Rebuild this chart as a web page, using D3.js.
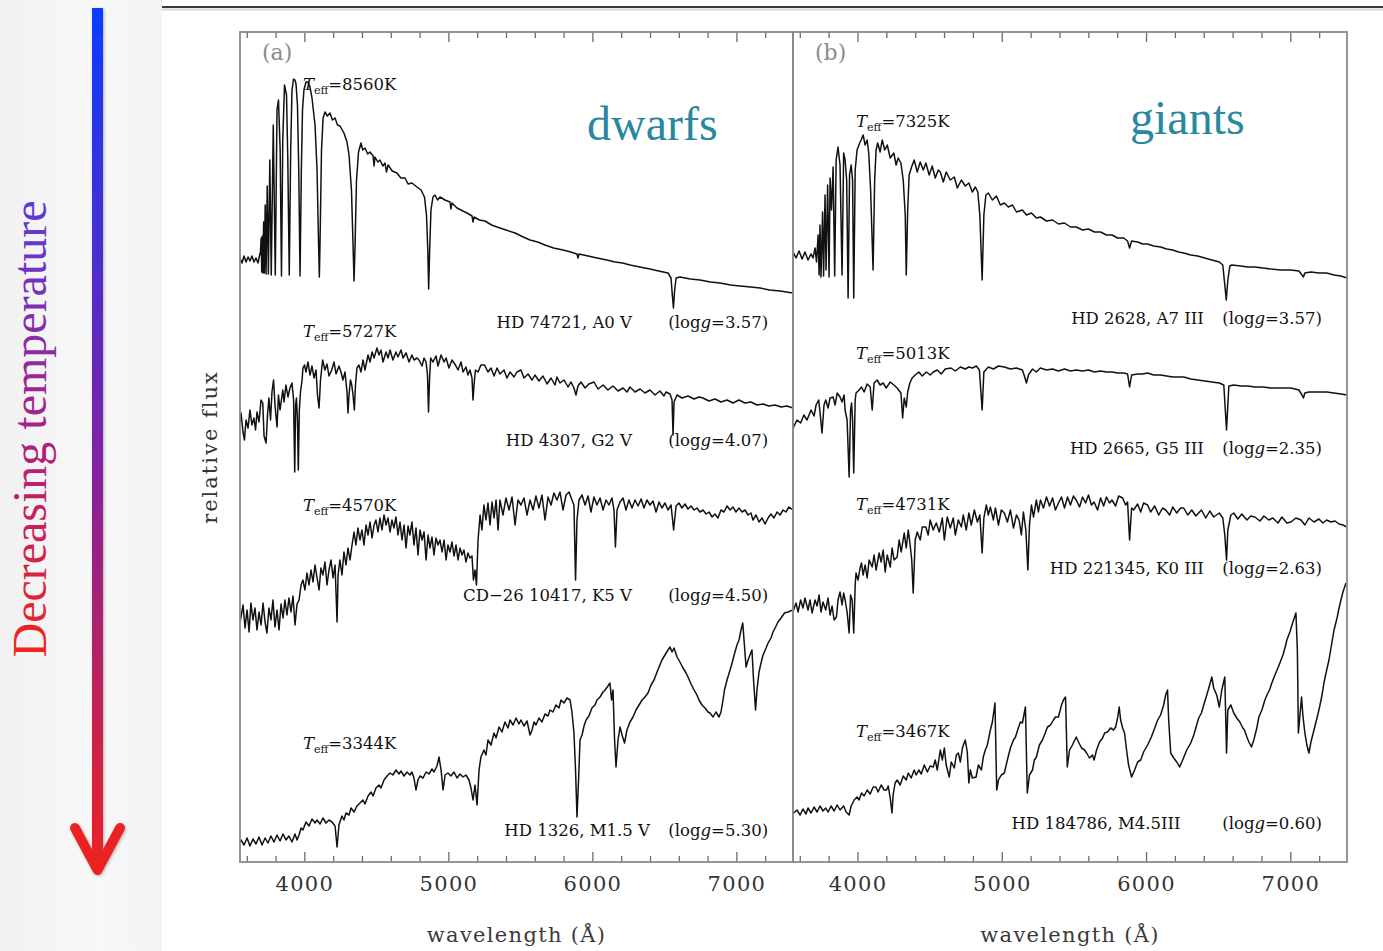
<!DOCTYPE html>
<html>
<head>
<meta charset="utf-8">
<script src="https://cdn.jsdelivr.net/npm/d3@7"></script>
<style>
  body { margin: 0; background: #fff; }
  svg { display: block; }
</style>
</head>
<body>
<svg id="chart" width="1383" height="951"></svg>
<script>
// ---- data (wavelength in Angstrom, relative flux incl. vertical offset) ----
const panelTags = ['(a)', '(b)'];
const groupNames = ['dwarfs', 'giants'];
const starNames = [
  ['HD 74721, A0 V', 'HD 4307, G2 V', 'CD\u221226 10417, K5 V', 'HD 1326, M1.5 V'],
  ['HD 2628, A7 III', 'HD 2665, G5 III', 'HD 221345, K0 III', 'HD 184786, M4.5III']
];
const teffs = [[8560, 5727, 4570, 3344], [7325, 5013, 4731, 3467]];
const loggs = [['3.57', '4.07', '4.50', '5.30'], ['3.57', '2.35', '2.63', '0.60']];
const waveTicks = [4000, 5000, 6000, 7000];
const waveMinorTicks = [3600, 3800, 4200, 4400, 4600, 4800, 5200, 5400, 5600, 5800,
  6200, 6400, 6600, 6800, 7200];

const a0v = [[3553,60.4],[3567,59.9],[3581,60.6],[3595,60.0],[3609,60.5],[3622,60.1],[3636,60.6],[3650,60.0],[3664,60.4],[3678,59.9],[3688,60.6],
  [3695,61.0],[3700,62.4],[3704,59.0],[3708,62.6],[3712,58.9],[3717,64.0],[3722,58.9],[3728,65.7],[3734,58.8],[3742,67.6],[3750,58.8],[3760,70.2],[3770,58.7],[3784,73.7],[3798,58.7],[3810,75.2],[3820,76.2],[3832,71.2],[3841,58.6],[3850,72.2],[3862,77.7],[3876,76.7],[3885,70.2],[3895,58.7],[3905,71.2],[3914,77.2],[3925,78.3],[3935,78.2],[3942,77.8],[3952,75.7],[3961,69.2],[3970,58.6],[3979,69.2],[3987,75.2],[3997,77.2],[4011,78.0],[4025,78.0],[4039,77.5],[4053,76.4],[4074,73.7],[4088,69.2],[4098,62.2],[4104,58.5],[4109,62.2],[4119,71.2],[4130,74.4],[4143,75.0],[4160,74.6],[4178,74.9],[4195,74.2],[4213,74.4],[4230,73.7],[4247,73.6],[4275,72.9],[4296,72.0],[4310,70.7],[4327,67.2],[4338,61.7],[4345,58.1],[4352,61.7],[4362,68.2],[4376,71.0],[4393,71.9],[4405,71.2],[4421,71.4],[4440,70.8],[4456,71.0],[4477,70.6],[4484,69.6],[4490,70.5],[4510,70.0],[4525,70.2],[4545,69.6],[4560,69.9],[4570,69.0],[4581,69.7],[4610,69.1],[4643,68.9],[4670,68.4],[4699,68.4],[4720,67.8],[4747,67.9],[4782,67.5],[4810,67.2],[4834,66.5],[4848,64.7],[4857,61.2],[4863,57.3],[4870,61.2],[4879,65.2],[4893,66.5],[4907,66.7],[4925,66.2],[4942,66.5],[4976,66.2],[5011,66.0],[5018,65.3],[5025,65.9],[5060,65.4],[5101,65.1],[5130,64.9],[5164,64.6],[5171,64.0],[5178,64.5],[5215,64.2],[5254,64.1],[5300,63.7],[5338,63.5],[5400,63.2],[5463,62.9],[5520,62.5],[5567,62.2],[5620,62.0],[5671,61.7],[5730,61.4],[5796,61.2],[5850,61.0],[5893,60.8],[5900,60.4],[5907,60.8],[5970,60.6],[6032,60.4],[6100,60.2],[6157,60.0],[6210,59.9],[6261,59.7],[6330,59.5],[6400,59.3],[6460,59.1],[6525,58.9],[6546,58.4],[6555,56.7],[6563,55.4],[6570,57.0],[6581,58.4],[6608,58.5],[6680,58.3],[6747,58.2],[6820,58.0],[6886,57.9],[6960,57.7],[7025,57.6],[7100,57.5],[7164,57.4],[7230,57.2],[7303,57.1],[7393,56.9]];

const g2v = [[3553,44.0],[3560,44.9],[3574,43.0],[3584,42.2],[3595,44.2],[3609,43.4],[3622,45.2],[3636,43.7],[3650,44.4],[3661,43.2],[3671,45.0],[3685,44.0],[3699,46.2],[3711,45.9],[3720,42.6],[3734,41.9],[3744,44.7],[3754,46.4],[3765,44.2],[3775,47.0],[3786,48.2],[3796,45.7],[3810,43.5],[3820,46.7],[3831,45.2],[3850,47.2],[3859,46.0],[3872,47.7],[3886,46.5],[3900,47.4],[3914,47.9],[3925,46.2],[3933,39.0],[3939,45.7],[3945,46.4],[3952,44.2],[3958,39.2],[3965,45.2],[3973,47.0],[3984,48.2],[3990,49.4],[4001,49.7],[4011,49.0],[4025,50.0],[4039,48.7],[4053,49.6],[4067,48.4],[4081,49.2],[4091,46.7],[4102,45.4],[4112,48.2],[4127,50.2],[4143,49.2],[4157,49.8],[4171,48.6],[4190,49.2],[4206,50.0],[4220,48.8],[4240,49.6],[4254,49.0],[4268,48.2],[4282,49.0],[4296,47.0],[4303,44.9],[4310,46.7],[4320,48.2],[4329,47.7],[4338,46.7],[4347,45.2],[4355,47.7],[4365,49.4],[4379,49.7],[4393,49.0],[4407,50.2],[4421,49.2],[4442,50.7],[4456,50.0],[4470,51.0],[4484,50.4],[4504,51.4],[4518,50.7],[4532,51.2],[4546,50.0],[4567,51.0],[4581,50.4],[4595,51.2],[4615,50.2],[4636,51.0],[4650,50.5],[4671,51.2],[4685,50.4],[4706,50.9],[4727,50.0],[4747,50.7],[4761,50.2],[4782,50.4],[4796,50.2],[4817,49.6],[4831,50.4],[4845,50.0],[4855,48.7],[4862,45.0],[4869,48.2],[4877,50.4],[4893,50.0],[4914,50.6],[4928,49.6],[4949,50.7],[4970,50.0],[4984,50.4],[5004,49.4],[5025,50.2],[5049,49.7],[5067,49.2],[5088,50.0],[5102,49.0],[5122,49.5],[5136,48.7],[5150,49.2],[5164,48.4],[5171,46.2],[5178,47.7],[5188,49.2],[5206,49.0],[5226,49.7],[5251,49.7],[5275,49.0],[5296,49.4],[5317,48.6],[5338,49.4],[5358,48.8],[5386,49.2],[5407,48.4],[5428,49.0],[5456,48.5],[5476,49.0],[5504,49.2],[5525,48.4],[5553,48.8],[5581,48.2],[5601,48.7],[5629,48.1],[5657,48.6],[5685,47.8],[5713,48.4],[5740,47.7],[5754,48.5],[5775,47.9],[5803,48.2],[5831,47.5],[5851,48.0],[5872,47.4],[5886,46.7],[5900,47.6],[5921,48.0],[5949,47.4],[5976,47.8],[6011,48.0],[6039,47.3],[6074,47.7],[6108,47.2],[6143,47.6],[6178,47.1],[6213,47.4],[6240,47.0],[6261,47.5],[6296,47.0],[6331,47.3],[6365,46.9],[6400,47.2],[6435,46.7],[6469,47.1],[6497,46.6],[6511,47.0],[6539,46.8],[6553,46.2],[6560,42.7],[6567,46.0],[6588,46.7],[6622,46.4],[6664,46.6],[6706,46.3],[6740,46.5],[6768,46.4],[6810,46.1],[6851,46.3],[6893,46.0],[6935,46.2],[6976,45.9],[7018,46.2],[7060,45.9],[7101,46.0],[7143,45.7],[7185,45.8],[7226,45.6],[7268,45.7],[7310,45.5],[7351,45.6],[7393,45.4]];

const k5v = [[3553,24.0],[3560,24.5],[3574,25.7],[3588,23.4],[3602,25.2],[3616,23.0],[3629,25.9],[3643,24.2],[3657,25.4],[3671,23.2],[3685,25.0],[3699,23.7],[3713,25.9],[3727,24.0],[3740,22.9],[3754,25.4],[3768,24.2],[3782,26.2],[3796,23.5],[3810,25.2],[3824,23.2],[3838,25.8],[3852,24.4],[3865,26.2],[3879,24.7],[3893,26.4],[3907,25.0],[3921,26.6],[3935,23.7],[3949,25.8],[3963,26.2],[3977,27.7],[3990,28.2],[4004,27.2],[4018,28.9],[4032,27.7],[4046,29.2],[4060,28.0],[4074,29.7],[4088,28.4],[4102,27.2],[4115,29.4],[4129,28.7],[4143,30.0],[4157,27.7],[4171,29.2],[4185,30.2],[4199,28.4],[4213,29.7],[4227,24.0],[4234,28.7],[4247,30.2],[4261,28.7],[4275,31.0],[4289,29.7],[4303,31.4],[4317,30.2],[4331,31.7],[4345,33.0],[4358,31.7],[4372,33.4],[4386,32.2],[4400,33.2],[4414,31.7],[4428,33.7],[4442,32.7],[4456,34.0],[4470,32.4],[4484,33.7],[4497,34.2],[4511,33.0],[4525,34.4],[4539,33.2],[4553,34.7],[4567,33.7],[4581,34.4],[4595,33.0],[4608,34.2],[4622,33.4],[4636,34.5],[4650,32.7],[4664,34.0],[4678,32.2],[4692,33.7],[4706,31.4],[4720,33.6],[4733,32.7],[4747,34.0],[4761,31.7],[4775,33.4],[4789,30.7],[4803,33.2],[4817,32.2],[4831,33.0],[4845,30.2],[4859,32.7],[4872,31.4],[4886,32.5],[4900,30.7],[4914,32.4],[4928,31.7],[4942,32.2],[4956,31.0],[4970,32.2],[4984,30.2],[4997,31.7],[5011,31.0],[5025,32.0],[5039,30.6],[5053,31.7],[5067,30.2],[5081,31.4],[5095,30.7],[5108,31.2],[5122,30.0],[5136,30.9],[5150,30.4],[5164,30.6],[5174,28.2],[5185,29.2],[5195,27.7],[5206,32.2],[5220,34.7],[5233,33.2],[5247,35.7],[5261,34.2],[5275,35.9],[5289,33.7],[5303,36.0],[5317,34.4],[5331,36.2],[5345,33.2],[5358,36.2],[5379,34.7],[5400,36.4],[5421,35.2],[5442,36.5],[5463,33.7],[5483,36.2],[5504,35.7],[5525,36.4],[5546,34.7],[5567,36.2],[5588,35.2],[5608,36.6],[5629,35.4],[5650,36.7],[5671,34.2],[5692,36.5],[5713,35.7],[5733,36.9],[5754,36.2],[5775,37.0],[5796,35.2],[5817,36.7],[5838,37.0],[5858,36.2],[5872,35.7],[5883,28.2],[5893,34.2],[5907,36.2],[5928,36.7],[5949,35.7],[5970,36.6],[5990,35.0],[6011,36.5],[6032,35.7],[6053,36.4],[6074,35.2],[6095,36.2],[6115,35.7],[6136,36.4],[6150,35.2],[6160,31.5],[6171,35.2],[6192,36.0],[6213,36.4],[6233,35.2],[6254,36.2],[6275,35.4],[6296,36.2],[6317,35.6],[6338,36.3],[6358,35.4],[6379,36.2],[6400,35.7],[6421,36.1],[6442,35.0],[6463,36.0],[6483,35.4],[6504,35.9],[6525,35.2],[6546,35.7],[6564,33.2],[6581,35.6],[6601,35.9],[6622,35.4],[6643,35.8],[6664,35.3],[6685,35.6],[6706,35.2],[6726,35.4],[6747,35.0],[6768,35.2],[6790,34.8],[6810,35.0],[6831,34.5],[6851,34.8],[6872,34.4],[6893,35.2],[6914,35.0],[6935,35.6],[6956,35.2],[6976,35.5],[6997,35.0],[7018,35.4],[7039,35.0],[7060,35.2],[7081,34.7],[7101,34.9],[7115,34.2],[7136,34.7],[7157,34.0],[7178,34.4],[7199,33.8],[7220,34.4],[7240,34.8],[7261,34.4],[7282,35.0],[7303,34.7],[7324,35.2],[7344,35.0],[7365,35.5],[7393,35.2]];

const m15v = [[3553,2.0],[3560,2.2],[3581,1.7],[3602,2.4],[3622,1.6],[3643,2.3],[3664,1.8],[3685,2.5],[3706,1.7],[3727,2.4],[3747,1.9],[3768,2.6],[3789,2.0],[3810,2.7],[3831,2.1],[3852,2.8],[3872,2.2],[3893,2.6],[3914,2.0],[3935,2.8],[3949,2.2],[3963,2.7],[3977,3.4],[3990,3.2],[4011,4.0],[4032,3.6],[4053,4.3],[4074,3.9],[4088,4.2],[4109,3.8],[4129,4.4],[4150,3.9],[4171,4.2],[4192,4.0],[4213,3.6],[4227,1.5],[4240,3.7],[4261,4.6],[4275,4.2],[4289,4.9],[4310,4.7],[4324,5.4],[4345,5.0],[4365,5.6],[4386,5.9],[4407,6.2],[4421,5.8],[4442,6.6],[4463,7.0],[4477,6.6],[4497,7.4],[4518,7.7],[4532,7.4],[4553,8.2],[4574,8.6],[4595,8.9],[4615,8.7],[4636,9.2],[4657,8.8],[4671,9.1],[4692,8.6],[4713,9.0],[4733,8.7],[4747,9.0],[4761,8.4],[4775,7.2],[4789,8.2],[4803,8.6],[4824,8.4],[4845,9.0],[4865,8.8],[4886,9.3],[4900,9.0],[4921,9.6],[4935,10.5],[4949,9.2],[4963,7.2],[4977,8.7],[4997,8.9],[5018,8.6],[5039,9.0],[5060,8.4],[5081,8.8],[5102,8.5],[5122,8.7],[5143,8.2],[5157,7.4],[5171,6.2],[5185,7.7],[5199,5.7],[5213,9.2],[5226,10.5],[5247,11.2],[5261,10.7],[5275,12.2],[5296,11.7],[5317,12.9],[5331,12.4],[5352,13.5],[5372,13.0],[5393,14.0],[5414,13.4],[5428,14.2],[5449,13.7],[5470,14.4],[5490,13.8],[5504,14.2],[5525,13.6],[5546,14.1],[5567,12.7],[5581,13.2],[5595,14.0],[5608,13.7],[5629,14.4],[5650,14.0],[5671,14.8],[5692,14.6],[5706,15.2],[5726,15.0],[5747,15.7],[5768,15.4],[5782,16.2],[5803,15.9],[5824,16.4],[5845,16.2],[5858,15.0],[5872,12.9],[5883,9.2],[5893,4.5],[5904,8.2],[5914,12.2],[5928,12.7],[5942,13.6],[5956,14.2],[5976,14.6],[5997,15.4],[6018,15.7],[6032,16.2],[6053,16.5],[6074,17.0],[6088,17.2],[6108,17.6],[6122,17.9],[6133,16.2],[6143,17.2],[6154,12.2],[6164,9.5],[6178,12.2],[6192,13.5],[6206,12.7],[6223,11.9],[6240,13.2],[6261,14.0],[6282,14.5],[6303,15.2],[6324,15.7],[6345,16.2],[6365,16.5],[6386,16.9],[6407,17.7],[6428,18.2],[6449,19.0],[6463,19.5],[6483,20.2],[6504,20.7],[6525,21.2],[6539,21.5],[6553,21.0],[6567,21.4],[6588,20.5],[6608,20.0],[6629,19.4],[6650,18.9],[6664,18.5],[6685,17.8],[6706,17.2],[6726,16.7],[6740,16.2],[6761,15.7],[6782,15.4],[6803,15.0],[6817,14.9],[6838,14.5],[6858,15.0],[6879,14.5],[6893,15.0],[6907,16.2],[6917,17.2],[6935,18.2],[6956,19.2],[6970,19.9],[6990,21.0],[7004,21.7],[7018,22.2],[7032,23.2],[7044,23.9],[7053,22.2],[7067,19.5],[7081,20.2],[7094,20.7],[7108,21.2],[7119,18.2],[7133,15.2],[7143,17.2],[7157,19.0],[7171,19.9],[7185,20.7],[7206,21.4],[7220,21.9],[7240,22.4],[7254,23.0],[7272,23.5],[7289,24.0],[7310,24.4],[7334,24.9],[7358,25.0],[7393,25.2]];

const a7iii = [[3553,60.7],[3557,60.9],[3574,60.4],[3595,61.1],[3616,60.3],[3636,61.0],[3657,60.2],[3678,60.8],[3692,60.4],[3706,61.4],[3716,60.0],[3727,62.7],[3734,58.7],[3740,63.7],[3747,58.5],[3758,65.0],[3765,58.6],[3775,66.7],[3782,59.2],[3793,67.7],[3803,58.5],[3810,68.4],[3820,65.2],[3831,69.5],[3842,58.6],[3852,70.2],[3865,71.5],[3879,69.7],[3893,58.7],[3904,70.9],[3914,70.2],[3925,68.2],[3935,56.4],[3945,68.7],[3956,69.7],[3966,68.2],[3974,56.4],[3984,69.2],[3997,71.2],[4015,71.9],[4025,72.2],[4039,72.7],[4053,71.7],[4067,72.2],[4078,70.9],[4091,67.2],[4108,59.2],[4119,68.2],[4129,71.2],[4140,71.9],[4157,71.0],[4171,72.2],[4189,71.2],[4206,71.7],[4227,70.4],[4252,70.9],[4268,69.7],[4282,70.4],[4301,69.9],[4317,68.2],[4331,64.7],[4338,58.7],[4348,65.2],[4358,68.7],[4375,69.5],[4393,70.2],[4414,69.0],[4435,70.0],[4456,69.2],[4474,69.9],[4497,68.7],[4518,69.6],[4539,68.4],[4560,69.2],[4574,69.0],[4595,68.0],[4615,69.0],[4643,68.2],[4671,68.5],[4692,67.4],[4720,68.2],[4747,67.6],[4772,67.9],[4796,67.0],[4817,67.5],[4834,67.0],[4848,64.7],[4864,58.2],[4876,64.7],[4890,66.7],[4907,66.9],[4935,66.2],[4963,66.6],[4990,65.7],[5018,65.9],[5046,65.5],[5074,65.7],[5102,65.0],[5143,65.2],[5171,64.7],[5206,64.9],[5240,64.4],[5268,64.5],[5310,64.1],[5352,64.2],[5393,63.8],[5435,63.9],[5476,63.5],[5516,63.5],[5560,63.2],[5601,63.3],[5643,63.0],[5685,63.0],[5726,62.7],[5764,62.7],[5803,62.4],[5845,62.4],[5872,62.1],[5886,61.4],[5900,62.1],[5942,62.0],[5976,61.8],[6011,61.8],[6053,61.6],[6101,61.5],[6143,61.3],[6185,61.2],[6226,61.0],[6261,60.9],[6310,60.7],[6358,60.6],[6407,60.4],[6456,60.2],[6508,60.0],[6532,59.7],[6546,57.7],[6556,56.2],[6567,58.2],[6581,59.6],[6595,59.7],[6657,59.6],[6706,59.5],[6754,59.5],[6810,59.4],[6865,59.3],[6935,59.2],[7004,59.2],[7060,59.1],[7081,58.7],[7091,58.5],[7101,58.9],[7143,59.0],[7199,58.9],[7252,58.9],[7303,58.7],[7351,58.6],[7393,58.4]];

const g5iii = [[3553,43.3],[3557,43.5],[3581,44.2],[3606,43.9],[3629,44.7],[3650,44.2],[3678,45.2],[3699,44.6],[3713,45.7],[3731,46.2],[3740,45.0],[3754,42.9],[3768,45.7],[3780,46.2],[3796,45.4],[3810,46.4],[3831,46.5],[3845,45.7],[3859,46.9],[3879,46.5],[3893,46.0],[3907,46.7],[3914,45.2],[3928,44.2],[3942,38.5],[3952,45.2],[3959,45.9],[3966,44.2],[3974,38.9],[3984,46.2],[3990,46.9],[4011,47.2],[4028,47.5],[4046,47.0],[4067,47.8],[4088,47.5],[4102,45.2],[4115,47.9],[4136,48.2],[4157,47.7],[4178,47.9],[4199,47.4],[4227,48.0],[4252,47.7],[4275,47.4],[4301,46.9],[4313,44.4],[4324,46.4],[4338,45.5],[4348,47.0],[4363,47.9],[4379,48.4],[4400,48.7],[4425,49.0],[4449,48.6],[4477,49.0],[4504,48.7],[4525,49.0],[4553,49.2],[4581,48.8],[4608,49.3],[4648,49.4],[4678,49.1],[4713,49.5],[4747,49.3],[4772,49.5],[4796,49.4],[4824,49.6],[4845,49.2],[4864,45.2],[4876,49.0],[4907,49.5],[4942,49.3],[4977,49.6],[5018,49.5],[5060,49.3],[5102,49.4],[5143,49.2],[5157,48.6],[5171,47.9],[5185,48.7],[5213,49.3],[5240,49.0],[5268,49.4],[5310,49.2],[5352,49.3],[5393,49.1],[5435,49.3],[5476,49.1],[5516,49.2],[5560,49.1],[5601,49.2],[5643,49.0],[5685,49.1],[5726,49.0],[5764,49.0],[5803,48.9],[5845,48.9],[5872,48.8],[5886,47.5],[5900,48.7],[5942,48.8],[5976,48.8],[6011,48.9],[6053,48.7],[6101,48.7],[6143,48.6],[6185,48.5],[6226,48.5],[6261,48.5],[6310,48.3],[6358,48.2],[6407,48.1],[6456,48.0],[6508,47.9],[6539,47.7],[6558,43.2],[6574,47.6],[6608,47.7],[6657,47.6],[6706,47.6],[6754,47.5],[6810,47.5],[6865,47.4],[6935,47.4],[7004,47.4],[7060,47.2],[7081,46.7],[7091,46.4],[7101,46.9],[7129,47.0],[7185,47.0],[7252,47.0],[7303,46.9],[7351,46.8],[7393,46.7]];

const k0iii = [[3553,25.0],[3557,25.2],[3574,25.9],[3588,25.0],[3606,26.2],[3622,25.4],[3636,26.4],[3657,25.2],[3671,26.2],[3685,24.9],[3706,26.2],[3720,25.6],[3734,26.7],[3747,25.0],[3761,26.0],[3780,25.2],[3796,26.4],[3810,24.7],[3824,25.6],[3838,24.2],[3854,24.5],[3865,26.2],[3879,27.0],[3893,25.7],[3904,26.9],[3914,26.2],[3928,25.0],[3942,22.9],[3952,26.7],[3963,26.2],[3974,22.9],[3984,27.7],[3990,28.9],[4004,28.2],[4018,29.4],[4028,29.9],[4039,28.7],[4053,29.7],[4067,28.4],[4081,30.2],[4102,29.5],[4115,30.7],[4129,29.2],[4150,30.9],[4164,30.0],[4178,31.2],[4192,29.0],[4206,30.7],[4227,29.5],[4240,31.4],[4254,30.2],[4275,30.5],[4289,32.2],[4303,31.0],[4324,32.9],[4338,31.4],[4352,33.2],[4365,31.7],[4376,30.2],[4386,26.9],[4400,32.2],[4414,33.0],[4435,32.2],[4449,33.5],[4474,33.5],[4490,32.7],[4504,34.2],[4525,33.2],[4546,33.9],[4567,33.0],[4588,34.4],[4602,32.2],[4622,34.5],[4643,33.4],[4664,34.4],[4678,32.7],[4699,34.2],[4720,33.5],[4733,34.7],[4754,33.2],[4772,34.9],[4789,33.7],[4810,35.2],[4831,34.0],[4848,34.7],[4864,30.9],[4876,34.4],[4893,35.7],[4907,34.7],[4921,35.5],[4942,34.2],[4956,35.4],[4977,33.7],[4997,35.2],[5018,34.9],[5039,34.0],[5060,35.2],[5081,33.4],[5102,34.7],[5120,34.2],[5136,32.7],[5150,35.0],[5167,33.2],[5181,29.2],[5192,33.7],[5206,35.7],[5220,34.5],[5240,36.2],[5254,35.0],[5268,36.2],[5289,35.4],[5310,36.5],[5331,35.6],[5352,36.4],[5372,35.2],[5393,35.9],[5414,36.5],[5435,35.4],[5456,36.5],[5476,35.7],[5497,36.6],[5516,36.2],[5539,35.5],[5560,36.5],[5581,35.9],[5601,36.7],[5622,35.7],[5640,36.0],[5664,35.2],[5685,36.4],[5706,35.6],[5726,36.5],[5747,35.9],[5764,36.2],[5789,35.6],[5810,36.6],[5838,36.4],[5858,35.7],[5872,36.0],[5886,32.2],[5900,35.4],[5914,35.2],[5942,35.8],[5963,35.0],[5983,35.9],[6011,35.7],[6032,35.0],[6060,35.6],[6088,34.7],[6115,35.4],[6136,35.2],[6164,34.7],[6185,35.5],[6213,34.9],[6240,35.4],[6261,35.4],[6289,34.7],[6317,35.2],[6345,34.6],[6384,35.2],[6414,34.4],[6442,35.1],[6469,34.5],[6508,34.9],[6532,34.4],[6546,32.7],[6558,30.2],[6567,33.2],[6588,34.7],[6608,34.9],[6636,34.3],[6664,34.8],[6699,34.2],[6726,34.6],[6754,34.5],[6790,34.1],[6817,34.6],[6851,34.2],[6879,34.4],[6914,33.9],[6942,34.5],[6976,33.9],[7004,34.0],[7039,34.4],[7074,34.2],[7101,33.7],[7129,34.4],[7164,34.0],[7199,34.3],[7226,33.9],[7252,34.2],[7282,34.0],[7310,34.1],[7338,33.8],[7365,33.7],[7393,33.5]];

const m45iii = [[3553,5.0],[3557,4.9],[3581,5.2],[3602,4.7],[3622,5.3],[3643,4.8],[3657,5.4],[3678,4.9],[3699,5.5],[3720,5.0],[3740,5.6],[3761,5.1],[3780,5.4],[3796,5.0],[3817,5.6],[3838,5.1],[3859,5.7],[3879,5.2],[3904,5.6],[3921,5.0],[3942,4.7],[3956,5.6],[3977,6.2],[3997,6.5],[4011,6.2],[4028,6.9],[4046,6.6],[4067,7.2],[4088,6.8],[4109,7.5],[4127,7.5],[4143,7.0],[4164,7.7],[4185,7.2],[4202,7.2],[4213,7.6],[4227,6.4],[4239,4.9],[4247,6.7],[4261,7.9],[4275,8.2],[4296,7.7],[4317,8.6],[4338,8.2],[4352,8.9],[4372,8.4],[4393,9.2],[4407,8.7],[4425,9.2],[4442,8.8],[4463,9.7],[4484,9.0],[4504,9.6],[4525,9.5],[4539,10.2],[4553,9.2],[4574,11.2],[4588,10.2],[4602,11.4],[4615,9.7],[4636,8.5],[4650,10.0],[4671,9.4],[4685,10.7],[4699,10.9],[4713,10.0],[4727,11.4],[4747,12.2],[4761,11.0],[4772,7.9],[4782,9.2],[4796,8.4],[4822,8.5],[4838,9.7],[4859,9.2],[4872,10.5],[4886,11.2],[4900,11.7],[4921,13.2],[4935,14.0],[4953,15.9],[4965,7.2],[4977,8.2],[4997,8.7],[5018,8.9],[5039,10.2],[5060,11.4],[5081,12.2],[5095,12.5],[5115,13.4],[5129,14.0],[5143,13.9],[5164,15.5],[5177,6.9],[5192,8.7],[5213,9.2],[5226,10.2],[5240,10.5],[5261,11.7],[5282,12.2],[5296,12.7],[5317,13.5],[5338,13.7],[5358,14.2],[5372,14.5],[5393,14.5],[5414,15.7],[5428,16.2],[5442,16.5],[5454,9.5],[5470,11.2],[5490,11.7],[5516,12.5],[5532,12.0],[5553,11.4],[5574,11.2],[5588,10.9],[5608,10.4],[5629,10.7],[5640,10.2],[5657,11.2],[5678,12.0],[5699,12.4],[5713,12.9],[5733,13.0],[5754,13.4],[5775,13.2],[5789,13.5],[5803,14.4],[5814,15.5],[5824,14.2],[5838,13.4],[5851,12.9],[5865,11.2],[5879,9.7],[5900,8.5],[5921,9.2],[5942,10.0],[5963,10.2],[5983,11.0],[6011,11.7],[6037,12.5],[6060,13.4],[6081,14.2],[6101,14.7],[6122,15.7],[6136,16.7],[6149,17.2],[6157,14.2],[6171,10.9],[6192,10.4],[6213,10.0],[6233,9.5],[6254,10.2],[6282,11.2],[6310,11.9],[6331,12.7],[6351,13.7],[6365,14.4],[6384,14.9],[6400,15.7],[6421,16.7],[6435,17.4],[6456,18.5],[6469,17.4],[6490,16.7],[6508,15.5],[6525,17.2],[6546,18.5],[6558,10.9],[6567,15.2],[6588,15.7],[6608,14.9],[6629,14.4],[6650,14.0],[6671,13.4],[6682,13.2],[6699,12.5],[6713,12.0],[6731,11.5],[6747,12.2],[6768,13.4],[6782,14.5],[6803,15.2],[6824,16.2],[6838,16.7],[6856,17.2],[6872,17.9],[6893,18.7],[6914,19.4],[6928,19.9],[6949,20.7],[6963,21.4],[6976,22.2],[6997,23.0],[7018,24.0],[7039,24.9],[7049,21.2],[7056,12.9],[7067,14.7],[7078,16.5],[7087,14.7],[7101,12.9],[7115,11.7],[7129,10.9],[7143,12.0],[7164,13.2],[7185,14.4],[7203,15.5],[7220,16.7],[7233,17.9],[7252,19.2],[7268,20.2],[7282,21.4],[7303,23.2],[7324,24.4],[7338,25.4],[7351,26.2],[7365,27.0],[7386,27.9]];

const spectra = [[a0v, g2v, k5v, m15v], [a7iii, g5iii, k0iii, m45iii]];

// ---- layout ----
const W = 1383, H = 951;
const plotTop = 32, plotBottom = 862;
const panelEdges = [[240, 793], [793, 1347]];
const waveDomain = [3553, 7393];
// label anchors in data units (flux for baselines, wavelength for right ends)
const teffAt = [[77.2, 52.5, 35.1, 11.3], [73.5, 50.3, 35.2, 12.5]];
const nameAt = [[53.4, 41.6, 26.1, 2.6], [53.8, 40.8, 28.8, 3.3]];
const nameEnd = [[6275, 6275, 6275, 6400], [6400, 6400, 6400, 6240]];
const loggEnd = 7220;
const teffStart = 3990;

const svg = d3.select('#chart');
const defs = svg.append('defs');

// slide decoration on the left
const side = defs.append('linearGradient').attr('id', 'sideGrad')
  .attr('x1', 0).attr('x2', 1).attr('y1', 0).attr('y2', 0);
side.append('stop').attr('offset', 0).attr('stop-color', '#f1f1f1');
side.append('stop').attr('offset', 0.6).attr('stop-color', '#f8f8f8');
side.append('stop').attr('offset', 1).attr('stop-color', '#f3f3f3');
svg.append('rect').attr('x', 0).attr('y', 0).attr('width', 162).attr('height', H)
  .attr('fill', 'url(#sideGrad)');

svg.append('line').attr('x1', 162).attr('x2', W).attr('y1', 9.5).attr('y2', 9.5)
  .attr('stroke', '#d8d8d8').attr('stroke-width', 2);
svg.append('line').attr('x1', 162).attr('x2', W).attr('y1', 7).attr('y2', 7)
  .attr('stroke', '#3a3a3a').attr('stroke-width', 2);

const arrowGrad = defs.append('linearGradient').attr('id', 'arrowGrad')
  .attr('gradientUnits', 'userSpaceOnUse')
  .attr('x1', 0).attr('x2', 0).attr('y1', 8).attr('y2', 870);
arrowGrad.append('stop').attr('offset', 0).attr('stop-color', '#0a3cff');
arrowGrad.append('stop').attr('offset', 0.5).attr('stop-color', '#7a24a8');
arrowGrad.append('stop').attr('offset', 1).attr('stop-color', '#ee2222');

const shadow = defs.append('filter').attr('id', 'soft')
  .attr('x', -0.5).attr('y', -0.1).attr('width', 2).attr('height', 1.2);
shadow.append('feDropShadow').attr('dx', 1).attr('dy', 1)
  .attr('stdDeviation', 1.5).attr('flood-opacity', 0.3);

const arrow = svg.append('g').attr('filter', 'url(#soft)');
arrow.append('rect').attr('x', 92).attr('y', 8).attr('width', 11).attr('height', 858)
  .attr('fill', 'url(#arrowGrad)');
arrow.append('path').attr('d', 'M75,828 L97.5,870 L120,828')
  .attr('fill', 'none').attr('stroke', '#ea2420').attr('stroke-width', 10)
  .attr('stroke-linecap', 'round').attr('stroke-linejoin', 'round');

const textGrad = defs.append('linearGradient').attr('id', 'textGrad')
  .attr('gradientUnits', 'userSpaceOnUse')
  .attr('x1', -229).attr('x2', 229).attr('y1', 0).attr('y2', 0);
textGrad.append('stop').attr('offset', 0).attr('stop-color', '#f0261c');
textGrad.append('stop').attr('offset', 0.45).attr('stop-color', '#b0207a');
textGrad.append('stop').attr('offset', 1).attr('stop-color', '#5a3ad8');

svg.append('text')
  .attr('transform', 'translate(46,429) rotate(-90)')
  .attr('text-anchor', 'middle')
  .attr('font-family', '"Liberation Serif", serif')
  .attr('font-size', 48)
  .attr('fill', 'url(#textGrad)')
  .text('Decreasing temperature');

// ---- chart ----
const y = d3.scaleLinear().domain([0, 83]).range([plotBottom, plotTop]);
const serif = '"DejaVu Serif", serif';

svg.append('text')
  .attr('transform', `translate(217,${(plotTop + plotBottom) / 2}) rotate(-90)`)
  .attr('text-anchor', 'middle')
  .attr('font-family', serif).attr('font-size', 21)
  .attr('letter-spacing', 2).attr('fill', '#333')
  .text('relative flux');

panelEdges.forEach((edge, p) => {
  const x = d3.scaleLinear().domain(waveDomain).range(edge);
  const g = svg.append('g').attr('class', 'panel');

  defs.append('clipPath').attr('id', 'clip' + p).append('rect')
    .attr('x', edge[0]).attr('y', plotTop)
    .attr('width', edge[1] - edge[0]).attr('height', plotBottom - plotTop);

  const line = d3.line().x(d => x(d[0])).y(d => y(d[1]));

  g.append('g').attr('clip-path', `url(#clip${p})`)
    .selectAll('path')
    .data(spectra[p])
    .join('path')
    .attr('d', line)
    .attr('fill', 'none')
    .attr('stroke', '#111')
    .attr('stroke-width', 1.5)
    .attr('stroke-linejoin', 'round');

  // ticks: bottom (with labels) and top, pointing inward
  const bottomMajor = g.append('g').attr('transform', `translate(0,${plotBottom})`)
    .call(d3.axisBottom(x).tickValues(waveTicks).tickSize(-10).tickPadding(14)
      .tickFormat(d3.format('d')));
  const bottomMinor = g.append('g').attr('transform', `translate(0,${plotBottom})`)
    .call(d3.axisBottom(x).tickValues(waveMinorTicks).tickSize(-6).tickFormat(''));
  const topMajor = g.append('g').attr('transform', `translate(0,${plotTop})`)
    .call(d3.axisTop(x).tickValues(waveTicks).tickSize(-10).tickFormat(''));
  const topMinor = g.append('g').attr('transform', `translate(0,${plotTop})`)
    .call(d3.axisTop(x).tickValues(waveMinorTicks).tickSize(-6).tickFormat(''));

  [bottomMajor, bottomMinor, topMajor, topMinor].forEach(a => {
    a.select('.domain').remove();
    a.selectAll('line').attr('stroke', '#6a6a6a').attr('stroke-width', 1.3);
  });
  bottomMajor.selectAll('text')
    .attr('font-family', serif).attr('font-size', 21)
    .attr('letter-spacing', 1.3).attr('fill', '#333');

  g.append('rect')
    .attr('x', edge[0]).attr('y', plotTop)
    .attr('width', edge[1] - edge[0]).attr('height', plotBottom - plotTop)
    .attr('fill', 'none').attr('stroke', '#8a8a8a').attr('stroke-width', 1.8);

  g.append('text')
    .attr('x', (edge[0] + edge[1]) / 2).attr('y', 942)
    .attr('text-anchor', 'middle')
    .attr('font-family', serif).attr('font-size', 21)
    .attr('letter-spacing', 1.3).attr('fill', '#3a3a3a')
    .text('wavelength (\u00c5)');

  g.append('text')
    .attr('x', edge[0] + 22).attr('y', plotTop + 28)
    .attr('font-family', serif).attr('font-size', 22)
    .attr('fill', '#8c8c8c')
    .text(panelTags[p]);

  g.append('text')
    .attr('x', p === 0 ? edge[0] + 347 : edge[0] + 337)
    .attr('y', p === 0 ? 140 : 134)
    .attr('font-family', '"Liberation Serif", serif').attr('font-size', 48)
    .attr('fill', '#2a87a0')
    .text(groupNames[p]);

  // star labels
  starNames[p].forEach((name, i) => {
    const t = g.append('text')
      .attr('x', x(teffStart)).attr('y', y(teffAt[p][i]))
      .attr('font-family', serif).attr('font-size', 16.5).attr('fill', '#111');
    t.append('tspan').attr('font-style', 'italic').text('T');
    t.append('tspan').attr('font-size', 11).attr('dy', 4).text('eff');
    t.append('tspan').attr('dy', -4).text('=' + teffs[p][i] + 'K');

    g.append('text')
      .attr('x', x(nameEnd[p][i])).attr('y', y(nameAt[p][i]))
      .attr('text-anchor', 'end')
      .attr('font-family', serif).attr('font-size', 16.5).attr('fill', '#111')
      .text(name);

    const l = g.append('text')
      .attr('x', x(loggEnd)).attr('y', y(nameAt[p][i]))
      .attr('text-anchor', 'end')
      .attr('font-family', serif).attr('font-size', 16.5).attr('fill', '#111');
    l.append('tspan').text('(log');
    l.append('tspan').attr('font-style', 'italic').text('g');
    l.append('tspan').text('=' + loggs[p][i] + ')');
  });
});
</script>
</body>
</html>
